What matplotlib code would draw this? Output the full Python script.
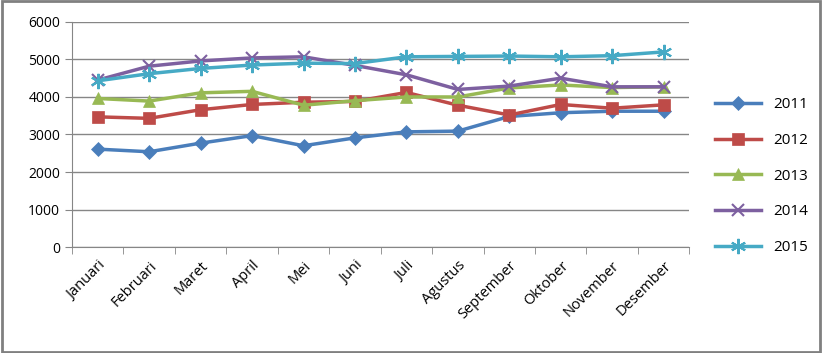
import matplotlib.pyplot as plt
import numpy as np

bulan = ['Januari', 'Februari', 'Maret', 'April', 'Mei', 'Juni', 'Juli',
         'Agustus', 'September', 'Oktober', 'November', 'Desember']
tahun = ['2011', '2012', '2013', '2014', '2015']

y2011 = [2610, 2540, 2770, 2970, 2700, 2910, 3070, 3090, 3480, 3580, 3620, 3620]
y2012 = [3470, 3430, 3660, 3800, 3860, 3880, 4120, 3780, 3520, 3800, 3700, 3790]
y2013 = [3960, 3890, 4110, 4150, 3780, 3900, 4000, 4000, 4240, 4320, 4250, 4270]
y2014 = [4450, 4820, 4960, 5040, 5070, 4840, 4590, 4200, 4290, 4500, 4270, 4270]
y2015 = [4430, 4620, 4760, 4850, 4900, 4890, 5070, 5080, 5090, 5070, 5100, 5200]

plt.rcParams['font.family'] = ['Open Sans', 'DejaVu Sans']

fig = plt.figure(figsize=(8.22, 3.53), dpi=100)
ax = fig.add_axes([0.0876, 0.30, 0.751, 0.638])

x = np.arange(len(bulan))
series = [y2011, y2012, y2013, y2014, y2015]
warna = ['#4A7EBB', '#BE4B48', '#98B954', '#7D60A0', '#46AAC5']
marker = ['D', 's', '^', 'x', (6, 2, 0)]
msize = [7, 9, 8, 9, 11]

for s, c, m, ms, lab in zip(series, warna, marker, msize, tahun):
    ax.plot(x, s, color=c, lw=2.5, marker=m, markersize=ms, label=lab,
            markeredgewidth=1.5 if m in ('x', (6, 2, 0)) else 0.5)

ax.set_xlim(-0.5, 11.5)
ax.set_ylim(0, 6000)
ax.set_yticks(range(0, 6001, 1000))
ax.yaxis.grid(True, color='#868686', lw=1)
ax.set_axisbelow(True)
ax.set_xticks(x)
ax.set_xticklabels(bulan, rotation=45, ha='right', rotation_mode='anchor', fontsize=10.5)
ax.set_xticks(np.arange(-0.5, 12, 1), minor=True)
ax.tick_params(axis='x', which='major', length=0, pad=8)
ax.tick_params(axis='x', which='minor', length=5, color='#868686')
ax.tick_params(axis='y', length=5, color='#868686', labelsize=10)
for sp in ['top', 'right']:
    ax.spines[sp].set_visible(False)
for sp in ['left', 'bottom']:
    ax.spines[sp].set_color('#868686')

ax.legend(loc='center left', bbox_to_anchor=(1.02, 0.315), frameon=False,
          fontsize=11, labelspacing=1.35, handlelength=3)

fig.patches.append(plt.Rectangle((0.002, 0.003), 0.996, 0.994, transform=fig.transFigure,
                                 fill=False, edgecolor='#808080', lw=2))

fig.savefig('out.png', dpi=100)
